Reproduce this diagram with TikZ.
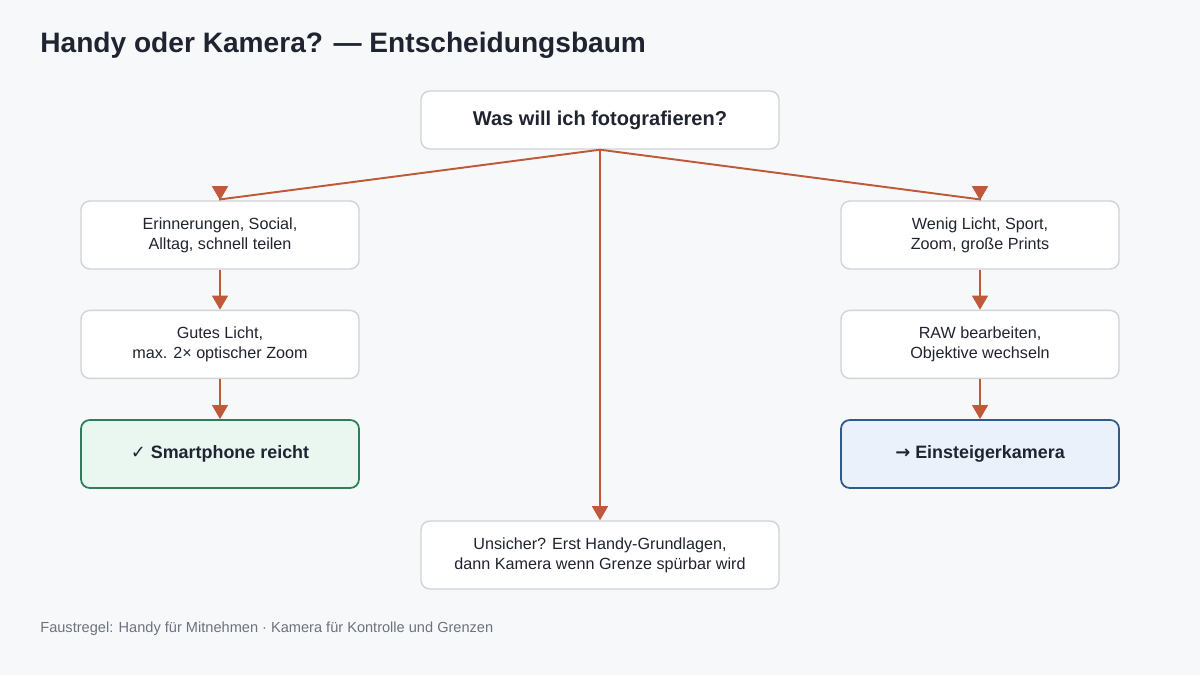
\documentclass[tikz,border=0pt]{standalone}
\usepackage{fontspec}
\setmainfont{Liberation Sans}
\newfontfamily\symfont{DejaVu Sans}
\usetikzlibrary{positioning}
\usetikzlibrary{arrows.meta}
\definecolor{bgc}{HTML}{F7F8FA}
\definecolor{edgec}{HTML}{C0583A}
\definecolor{boxline}{HTML}{D0D3D8}
\definecolor{inkc}{HTML}{1F2430}
\definecolor{greenline}{HTML}{2E7D5B}
\definecolor{greenfill}{HTML}{EAF7F0}
\definecolor{blueline}{HTML}{2F5A8A}
\definecolor{bluefill}{HTML}{EAF1FB}
\definecolor{footc}{HTML}{6B7280}
\tikzset{
  box/.style={draw=boxline, line width=0.8pt, fill=white, rounded corners=5pt,
    minimum width=5.56cm, minimum height=1.36cm, align=center,
    font=\fontsize{9.2}{11.5}\selectfont, text=inkc},
  flow/.style={draw=edgec, line width=1.1pt, -{Triangle[width=9pt,length=8pt]}},
}
\begin{document}
\begin{tikzpicture}
\useasboundingbox[fill=bgc] (0,0) rectangle (24,13.5);
\node[anchor=west, inner sep=0pt, font=\fontsize{16}{18}\selectfont\bfseries, text=inkc] (title) at (0.8,12.6) {Handy oder Kamera? — Entscheidungsbaum};
% Frage
\node[box, minimum width=7.16cm, minimum height=1.16cm, font=\fontsize{11.4}{13}\selectfont\bfseries] (q) at (12,11.1) {Was will ich fotografieren?};
% linker Zweig
\node[box] (l1) at (4.4,8.8) {Erinnerungen, Social,\\Alltag, schnell teilen};
\node[box, below=0.8cm of l1] (l2) {Gutes Licht,\\max. 2× optischer Zoom};
\node[box, below=0.8cm of l2, draw=greenline, fill=greenfill, line width=1pt, font=\fontsize{10.2}{12}\selectfont\bfseries] (l3) {{\symfont ✓} Smartphone reicht};
% rechter Zweig
\node[box] (r1) at (19.6,8.8) {Wenig Licht, Sport,\\Zoom, große Prints};
\node[box, below=0.8cm of r1] (r2) {RAW bearbeiten,\\Objektive wechseln};
\node[box, below=0.8cm of r2, draw=blueline, fill=bluefill, line width=1pt, font=\fontsize{10.2}{12}\selectfont\bfseries] (r3) {{\symfont →} Einsteigerkamera};
% Mitte
\node[box, minimum width=7.16cm] (m) at (12,2.4) {Unsicher? Erst Handy-Grundlagen,\\dann Kamera wenn Grenze spürbar wird};
\draw[flow] (q.south) -- ([yshift=0.5pt]l1.north) -- (l1.north);
\draw[flow] (q.south) -- ([yshift=0.5pt]r1.north) -- (r1.north);
\draw[flow] (q.south) -- (m.north);
\draw[flow] (l1) -- (l2);
\draw[flow] (l2) -- (l3);
\draw[flow] (r1) -- (r2);
\draw[flow] (r2) -- (r3);
\node[anchor=west, inner sep=0pt, font=\fontsize{8.3}{10}\selectfont, text=footc] (foot) at (0.8,0.92) {Faustregel: Handy für Mitnehmen · Kamera für Kontrolle und Grenzen};
\end{tikzpicture}
\end{document}
